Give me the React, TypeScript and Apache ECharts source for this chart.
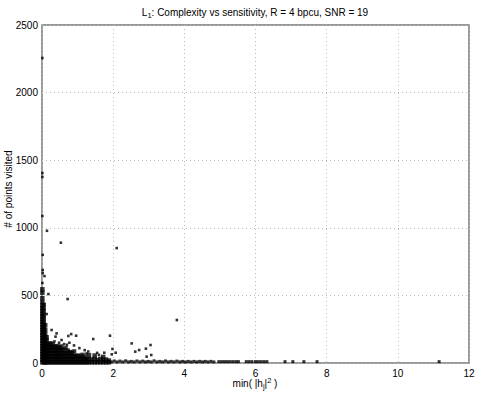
import React, { useEffect, useRef } from "react";
import * as echarts from "echarts";

const xTicks = [0, 2, 4, 6, 8, 10, 12];
const yTicks = [0, 500, 1000, 1500, 2000, 2500];

// isolated points
const outliers: number[][] = [
  [0.01, 2256], [0.01, 1405], [0.01, 1376], [0.01, 1087], [0.14, 978], [0.53, 890], [2.1, 850],
  [0.02, 800], [0.02, 688], [0.02, 665], [0.07, 643], [0.01, 592], [0.18, 510], [0.72, 473],
  [3.79, 318], [0.13, 362], [0.27, 244], [0.41, 219], [0.38, 195], [0.74, 200], [0.82, 214],
  [0.96, 202], [0.55, 170], [0.77, 150], [1.44, 177], [1.91, 202], [1.98, 104], [2.07, 76],
  [1.96, 64], [1.75, 76], [2.52, 145], [2.62, 84], [2.73, 96], [2.92, 106], [3.05, 133],
  [3.07, 59], [2.94, 47], [0.35, 160], [0.48, 150], [0.62, 140], [0.9, 130], [1.05, 110],
  [1.2, 95], [1.3, 85], [0.7, 135], [1.55, 75], [1.6, 60], [1.25, 70],
];

// dense cluster near the origin
const cluster: number[][] = [
  [0.01, 5], [0.01, 25], [0.01, 45], [0.01, 65], [0.01, 85], [0.01, 105], [0.01, 125], [0.01, 145],
  [0.01, 165], [0.01, 185], [0.01, 205], [0.01, 225], [0.01, 245], [0.01, 265], [0.01, 285],
  [0.01, 305], [0.01, 325], [0.01, 345], [0.01, 365], [0.01, 385], [0.01, 405], [0.01, 425],
  [0.01, 450], [0.01, 480], [0.01, 520], [0.01, 545],
  [0.05, 5], [0.05, 25], [0.05, 45], [0.05, 65], [0.05, 85], [0.05, 105], [0.05, 125], [0.05, 145],
  [0.05, 165], [0.05, 185], [0.05, 205], [0.05, 225], [0.05, 250], [0.05, 275], [0.05, 300],
  [0.05, 330], [0.05, 360], [0.05, 395], [0.05, 430],
  [0.09, 5], [0.09, 28], [0.09, 50], [0.09, 72], [0.09, 95], [0.09, 118], [0.09, 140], [0.09, 165],
  [0.09, 190], [0.09, 215], [0.09, 245], [0.09, 280],
  [0.13, 5], [0.13, 28], [0.13, 50], [0.13, 72], [0.13, 95], [0.13, 118], [0.13, 140], [0.13, 165], [0.13, 190],
  [0.18, 5], [0.18, 28], [0.18, 50], [0.18, 72], [0.18, 95], [0.18, 118], [0.18, 140],
  [0.24, 5], [0.24, 28], [0.24, 50], [0.24, 72], [0.24, 95], [0.24, 118], [0.24, 145],
  [0.3, 5], [0.3, 28], [0.3, 50], [0.3, 72], [0.3, 95], [0.3, 118], [0.3, 140],
  [0.36, 5], [0.36, 28], [0.36, 50], [0.36, 72], [0.36, 95], [0.36, 120],
  [0.42, 5], [0.42, 28], [0.42, 50], [0.42, 72], [0.42, 95], [0.42, 125],
  [0.48, 5], [0.48, 28], [0.48, 50], [0.48, 72], [0.48, 95], [0.48, 115],
  [0.54, 5], [0.54, 28], [0.54, 50], [0.54, 72], [0.54, 100], [0.54, 122],
  [0.6, 5], [0.6, 28], [0.6, 50], [0.6, 72], [0.6, 95],
  [0.66, 5], [0.66, 28], [0.66, 50], [0.66, 72], [0.66, 110],
  [0.72, 5], [0.72, 28], [0.72, 50], [0.72, 72], [0.72, 92],
  [0.78, 5], [0.78, 28], [0.78, 50], [0.78, 80],
  [0.84, 5], [0.84, 28], [0.84, 50], [0.84, 75],
  [0.9, 5], [0.9, 28], [0.9, 52], [0.9, 85],
  [0.96, 5], [0.96, 28], [0.96, 50],
  [1.02, 5], [1.02, 28], [1.02, 55],
  [1.08, 5], [1.08, 28], [1.08, 48],
  [1.14, 5], [1.14, 28], [1.14, 60],
  [1.2, 5], [1.2, 25], [1.2, 45],
  [1.26, 5], [1.26, 28],
  [1.32, 5], [1.32, 30], [1.32, 58],
  [1.4, 5], [1.4, 25],
  [1.48, 5], [1.48, 30], [1.48, 55],
  [1.56, 5], [1.56, 22],
  [1.64, 5], [1.64, 30],
  [1.72, 5], [1.72, 20], [1.72, 45],
  [1.8, 5], [1.8, 25],
  [1.88, 5], [1.88, 18],
];

// thin band of points along the bottom
const band: number[][] = [
  [1.95, 8], [2.03, 15], [2.11, 8], [2.19, 14], [2.27, 8], [2.35, 16], [2.43, 8], [2.51, 12],
  [2.59, 8], [2.67, 15], [2.75, 8], [2.83, 14], [2.91, 8], [2.99, 12], [3.07, 8], [3.15, 16],
  [3.23, 8], [3.31, 12], [3.39, 8], [3.47, 15], [3.55, 8], [3.63, 12], [3.71, 8], [3.79, 14],
  [3.87, 8], [3.95, 12], [4.03, 8], [4.11, 12], [4.19, 8], [4.27, 12], [4.35, 8], [4.43, 12],
  [4.51, 8], [4.59, 12], [4.67, 8], [4.75, 12], [4.83, 8], [4.97, 10], [5.05, 10], [5.13, 10],
  [5.21, 10], [5.29, 10], [5.37, 10], [5.45, 10], [5.52, 10], [5.74, 10], [5.82, 10], [5.9, 10],
  [6.0, 10], [6.08, 10], [6.16, 10], [6.24, 10], [6.32, 10], [6.83, 10], [7.05, 10], [7.36, 10],
  [7.73, 10], [11.16, 10],
];

const FONT = "Liberation Sans";

export default function App() {
  const ref = useRef<HTMLDivElement>(null);
  useEffect(() => {
    if (!ref.current) return;
    const chart = echarts.init(ref.current, undefined, { renderer: "svg" });
    const dotStyle = { color: "#000" };
    chart.setOption({
      animation: false,
      backgroundColor: "#fff",
      grid: {
        left: 42, top: 25, right: 9, bottom: 35,
        show: true, borderColor: "#7a7a7a", borderWidth: 1.5, backgroundColor: "#fff",
      },
      xAxis: {
        type: "value", min: 0, max: 12, interval: 2,
        axisLine: { show: false }, axisTick: { show: false },
        axisLabel: { color: "#000", fontSize: 10, fontFamily: FONT, margin: 5,
          formatter: (v: number) => (xTicks.includes(v) ? String(v) : "") },
        splitLine: { show: true, lineStyle: { color: "#bdbdbd", type: [1, 3], width: 1 } },
      },
      yAxis: {
        type: "value", min: 0, max: 2500, interval: 500,
        axisLine: { show: false }, axisTick: { show: false },
        axisLabel: { color: "#000", fontSize: 10, fontFamily: FONT, margin: 4,
          formatter: (v: number) => (yTicks.includes(v) ? String(v) : "") },
        splitLine: { show: true, lineStyle: { color: "#bdbdbd", type: [1, 3], width: 1 } },
      },
      graphic: [
        {
          type: "text", x: 255, y: 12,
          style: {
            text: "L{s|1}: Complexity vs sensitivity, R = 4 bpcu, SNR = 19",
            fill: "#000", font: `10px "${FONT}"`, align: "center", verticalAlign: "middle",
            rich: { s: { fontSize: 7.5, fontFamily: FONT, padding: [7, 0, 0, 0], fill: "#000" } },
          },
        },
        {
          type: "text", x: 255, y: 383,
          style: {
            text: "min( |h{s|j}|{p|2} )",
            fill: "#000", font: `10px "${FONT}"`, align: "center", verticalAlign: "middle",
            rich: {
              s: { fontSize: 7.5, fontFamily: FONT, padding: [7, 0, 0, 0], fill: "#000" },
              p: { fontSize: 7.5, fontFamily: FONT, padding: [0, 0, 6, 0], fill: "#000" },
            },
          },
        },
        {
          type: "text", x: 8, y: 189, rotation: Math.PI / 2,
          style: {
            text: "# of points visited", fill: "#000", font: `10px "${FONT}"`,
            align: "center", verticalAlign: "middle",
          },
        },
      ],
      series: [
        { type: "scatter", data: cluster, symbol: "rect", symbolSize: 4.5, itemStyle: dotStyle, silent: true },
        { type: "scatter", data: band, symbol: "rect", symbolSize: 3, itemStyle: dotStyle, silent: true },
        { type: "scatter", data: outliers, symbol: "rect", symbolSize: 2.6, itemStyle: dotStyle, silent: true },
      ],
    });
    return () => chart.dispose();
  }, []);
  return <div ref={ref} style={{ width: 478, height: 398, position: "absolute", left: 0, top: 0 }} />;
}
